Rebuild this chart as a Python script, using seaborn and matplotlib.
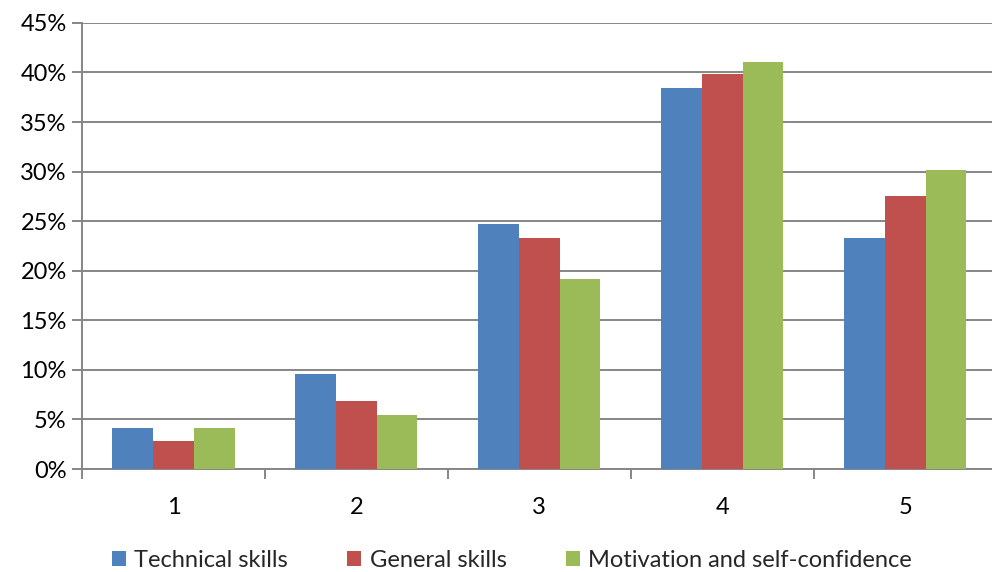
import matplotlib
matplotlib.use("Agg")
import matplotlib.pyplot as plt
from matplotlib.ticker import FixedLocator, PercentFormatter
import pandas as pd
import seaborn as sns

categories = ["1", "2", "3", "4", "5"]
series_names = ["Technical skills", "General skills", "Motivation and self-confidence"]
technical = [4.1, 9.6, 24.7, 38.4, 23.3]
general = [2.8, 6.9, 23.3, 39.8, 27.5]
motivation = [4.1, 5.5, 19.2, 41.1, 30.2]
colors = ["#4F81BD", "#C0504D", "#9BBB59"]

df = pd.DataFrame({
    "rating": categories * 3,
    "series": [s for s in series_names for _ in categories],
    "share": technical + general + motivation,
})

sns.set_theme(style="white")
plt.rcParams["font.family"] = ["Lato", "DejaVu Sans"]

fig = plt.figure(figsize=(9.92, 5.72), dpi=100)
ax = fig.add_axes([0.0827, 0.18, 0.922, 0.78])

sns.barplot(data=df, x="rating", y="share", hue="series", order=categories,
            hue_order=series_names, palette=colors, width=0.667, gap=0,
            saturation=1, errorbar=None, linewidth=0, ax=ax, zorder=3)

grid_color = "#868686"
fs = 17
ax.set_ylim(0, 45)
ax.set_xlim(-0.5, 4.5)
ax.yaxis.set_major_locator(FixedLocator(range(0, 46, 5)))
ax.yaxis.set_major_formatter(PercentFormatter(decimals=0))
ax.grid(axis="y", color=grid_color, linewidth=1.4, zorder=0)
ax.set_axisbelow(True)

for side in ["top", "right"]:
    ax.spines[side].set_visible(False)
for side in ["left", "bottom"]:
    ax.spines[side].set_color(grid_color)
    ax.spines[side].set_linewidth(1.4)

ax.tick_params(axis="y", which="major", left=True, length=7, width=1.4,
               color=grid_color, labelsize=fs, pad=4, labelcolor="black")
ax.tick_params(axis="x", which="major", bottom=False, labelsize=fs, pad=14,
               labelcolor="black")
ax.xaxis.set_minor_locator(FixedLocator([i - 0.5 for i in range(len(categories) + 1)]))
ax.tick_params(axis="x", which="minor", bottom=True, length=7, width=1.4,
               color=grid_color)

ax.set_xlabel("")
ax.set_ylabel("")

leg = ax.legend(loc="center", bbox_to_anchor=(0.470, -0.204), ncol=3,
                frameon=False, fontsize=fs, handlelength=0.6, handleheight=0.6,
                handletextpad=0.35, columnspacing=2.5)

fig.savefig("out.png", dpi=100)
